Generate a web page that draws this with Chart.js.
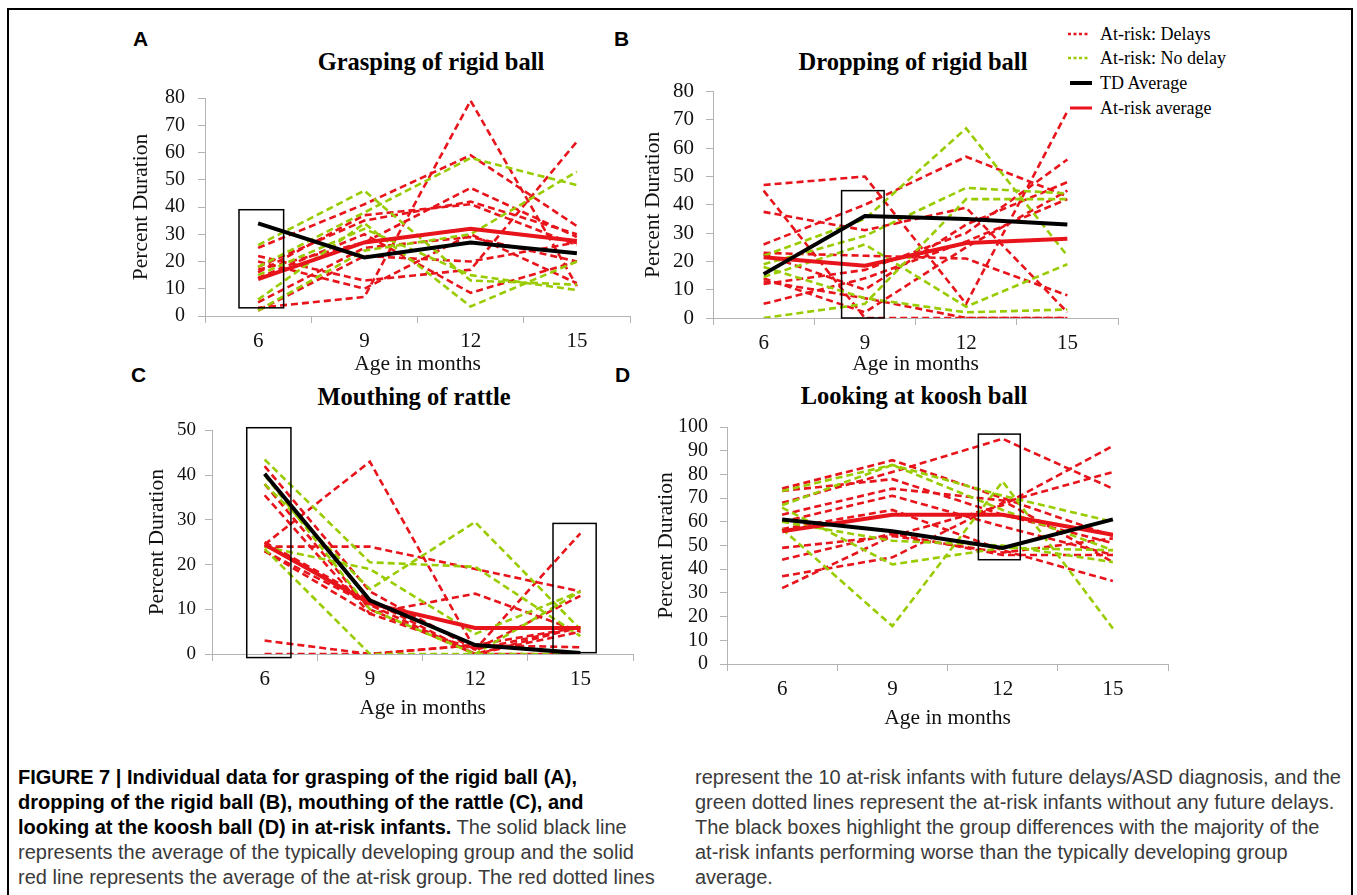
<!DOCTYPE html>
<html>
<head>
<meta charset="utf-8">
<script src="https://cdn.jsdelivr.net/npm/chart.js@4.4.1/dist/chart.umd.min.js"></script>
<style>
  html, body { margin:0; padding:0; background:#fff; }
  body { width:1357px; height:895px; position:relative; overflow:hidden; }
  #frame { position:absolute; left:7px; top:8px; width:1346px; height:1000px; border:2.5px solid #000; box-sizing:border-box; }
  canvas { position:absolute; }
  .lbl { position:absolute; font-family:"Liberation Sans", Arial, sans-serif; font-weight:bold; font-size:21px; line-height:21px; color:#000; }
  .ttl { position:absolute; width:400px; text-align:center; font-family:"Liberation Serif", "Times New Roman", serif; font-weight:bold; font-size:24.5px; line-height:24.5px; color:#000; white-space:nowrap; }
  .leg { position:absolute; font-family:"Liberation Serif", "Times New Roman", serif; font-size:18px; line-height:18px; color:#000; white-space:nowrap; }
  .cap { position:absolute; font-family:"Liberation Sans", Arial, sans-serif; font-size:20px; line-height:25px; color:#3a3a3a; white-space:nowrap; }
  .cap b { color:#000; }
</style>
</head>
<body>
<div id="frame"></div>

<div class="lbl" style="left:133px; top:28px;">A</div>
<div class="lbl" style="left:614px; top:28px;">B</div>
<div class="lbl" style="left:131px; top:364px;">C</div>
<div class="lbl" style="left:615px; top:364px;">D</div>

<div class="ttl" style="left:231px; top:50px;">Grasping of rigid ball</div>
<div class="ttl" style="left:713px; top:50px;">Dropping of rigid ball</div>
<div class="ttl" style="left:214px; top:385px;">Mouthing of rattle</div>
<div class="ttl" style="left:714px; top:384px;">Looking at koosh ball</div>

<svg style="position:absolute; left:1060px; top:24px;" width="40" height="95">
  <line x1="8" y1="10" x2="28" y2="10" stroke="#e8141b" stroke-width="2.5" stroke-dasharray="3,2.5"/>
  <line x1="8" y1="34" x2="28" y2="34" stroke="#99cc00" stroke-width="2.5" stroke-dasharray="3,2.5"/>
  <line x1="10" y1="59" x2="32" y2="59" stroke="#000" stroke-width="4"/>
  <line x1="10" y1="84" x2="32" y2="84" stroke="#e8141b" stroke-width="3"/>
</svg>
<div class="leg" style="left:1100px; top:25px;">At-risk: Delays</div>
<div class="leg" style="left:1100px; top:49px;">At-risk: No delay</div>
<div class="leg" style="left:1100px; top:74px;">TD Average</div>
<div class="leg" style="left:1100px; top:99px;">At-risk average</div>

<canvas id="cA" width="511" height="308" style="left:124px; top:73px;"></canvas>
<canvas id="cB" width="487" height="314" style="left:636px; top:67px;"></canvas>
<canvas id="cC" width="498" height="315" style="left:140px; top:410px;"></canvas>
<canvas id="cD" width="524" height="332" style="left:649px; top:403px;"></canvas>

<div class="cap" style="left:18px; top:765px;">
<b>FIGURE 7 | Individual data for grasping of the rigid ball (A),</b><br>
<b>dropping of the rigid ball (B), mouthing of the rattle (C), and</b><br>
<b>looking at the koosh ball (D) in at-risk infants.</b> The solid black line<br>
represents the average of the typically developing group and the solid<br>
red line represents the average of the at-risk group. The red dotted lines
</div>
<div class="cap" style="left:695px; top:765px;">
represent the 10 at-risk infants with future delays/ASD diagnosis, and the<br>
green dotted lines represent the at-risk infants without any future delays.<br>
The black boxes highlight the group differences with the majority of the<br>
at-risk infants performing worse than the typically developing group<br>
average.
</div>

<script>
// ---------- categories ----------
const ages = ['6', '9', '12', '15'];

// ---------- A: Grasping of rigid ball ----------
const graspTD = [34, 21.5, 27, 23];
const graspRiskAvg = [13.5, 27, 32, 27.5];
const graspDelays = [
  [3, 7, 79, 11], [22, 13, 17, 64], [25, 41, 59, 33], [17, 27, 47, 29], [18, 35, 42, 30],
  [16, 37, 41, 26], [5, 25, 29, 20], [14, 30, 8.5, 20], [2, 22, 20, 27], [20, 10, 30, 12]
];
const graspNoDelay = [
  [26, 46, 13, 11.5], [18, 38, 58, 48], [6, 34, 3.5, 20], [2, 24, 30, 53], [15, 32, 15, 9.5]
];
const graspBoxes = [{ cat: 0, from: -0.18, to: 0.24, low: 3, high: 39 }];

// ---------- B: Dropping of rigid ball ----------
const dropTD = [15.5, 36, 35, 33];
const dropRiskAvg = [21.5, 18.5, 26.5, 28];
const dropDelays = [
  [47, 50, 5, 73], [45, 0, 0, 0], [37.5, 31, 39, 2], [26, 40, 57, 43], [23, 22, 21, 8],
  [22.5, 10, 33, 48], [13, 7, 0, 0], [12, 17, 30, 56], [5, 14, 27, 42], [14, 2, 25, 45]
];
const dropNoDelay = [
  [22, 35, 67, 22], [19, 29, 46, 44], [14.5, 26, 4, 19], [0, 5, 42, 42], [18, 7, 2, 3]
];
const dropBoxes = [{ cat: 1, from: -0.23, to: 0.19, low: 0, high: 45 }];

// ---------- C: Mouthing of rattle ----------
const mouthTD = [40.3, 12, 2, 0.2];
const mouthRiskAvg = [24.5, 11.3, 5.8, 5.8];
const mouthDelays = [
  [24.5, 43, 1, 6], [24, 24, 19, 14], [35.5, 9, 13.5, 5], [42, 14, 1, 13], [23, 9, 1, 27],
  [25, 12, 0, 6], [3, 0, 2, 6], [0, 0, 2, 1.5], [38, 10, 0, 0], [23, 11, 0, 5]
];
const mouthNoDelay = [
  [43.5, 20.5, 19.5, 4], [38, 14.5, 29.5, 5.5], [24, 19, 4.5, 14], [23.5, 0, 0, 14], [40, 10, 0, 0]
];
const mouthBoxes = [
  { cat: 0, from: -0.17, to: 0.25, low: -0.8, high: 50.6 },
  { cat: 3, from: -0.26, to: 0.15, low: 0.3, high: 29.2 }
];

// ---------- D: Looking at koosh ball ----------
const lookTD = [61, 56, 49, 61];
const lookRiskAvg = [56, 63, 63, 54.5];
const lookDelays = [
  [68, 81, 95, 74], [32, 54, 67, 92], [37, 45, 68, 81], [74, 86, 70, 54], [73, 78, 63, 51],
  [63, 74, 69, 43], [60, 71, 58, 46], [57, 65, 48, 35], [49, 54, 47, 53], [44, 55, 46, 46]
];
const lookNoDelay = [
  [57, 16, 77, 15], [73, 84, 71, 60], [67, 84, 65, 48], [60, 52, 50, 43], [66, 42, 49, 48]
];
const lookBoxes = [{ cat: 2, from: -0.22, to: 0.16, low: 44, high: 97 }];

// ---------- styling ----------
const RED = '#e8141b', GREEN = '#99cc00', BLACK = '#000000', AXIS = '#b3b3b3';
const SERIF = '"Liberation Serif", "Times New Roman", serif';

const boxPlugin = {
  id: 'boxes',
  afterDatasetsDraw(chart, args, opts) {
    const xs = chart.scales.x, ys = chart.scales.y, ctx = chart.ctx;
    const step = xs.getPixelForValue(1) - xs.getPixelForValue(0);
    ctx.save();
    ctx.strokeStyle = '#000';
    ctx.lineWidth = 1.5;
    (opts.list || []).forEach(b => {
      const c = xs.getPixelForValue(b.cat);
      const x0 = c + b.from * step, x1 = c + b.to * step;
      const y0 = ys.getPixelForValue(b.high), y1 = ys.getPixelForValue(b.low);
      ctx.strokeRect(x0, y0, x1 - x0, y1 - y0);
    });
    ctx.restore();
  }
};

function makePanel(id, p) {
  const datasets = [];
  datasets.push({ data: p.td, borderColor: BLACK, borderWidth: 4, pointRadius: 0, tension: 0 });
  datasets.push({ data: p.avg, borderColor: RED, borderWidth: 4, pointRadius: 0, tension: 0 });
  p.noDelay.forEach(d => datasets.push({ data: d, borderColor: GREEN, borderWidth: 2.6, borderDash: [7, 4], pointRadius: 0, tension: 0 }));
  p.delays.forEach(d => datasets.push({ data: d, borderColor: RED, borderWidth: 2.6, borderDash: [7, 4], pointRadius: 0, tension: 0 }));

  new Chart(document.getElementById(id), {
    type: 'line',
    data: { labels: ages, datasets },
    plugins: [boxPlugin],
    options: {
      responsive: false, maintainAspectRatio: false, animation: false, devicePixelRatio: 1,
      layout: { padding: { top: 20, right: 5, left: 0, bottom: 0 } },
      plugins: { legend: { display: false }, tooltip: { enabled: false }, title: { display: false }, boxes: { list: p.boxes } },
      scales: {
        x: {
          type: 'category', offset: true,
          grid: { offset: true, drawOnChartArea: false, drawTicks: true, tickLength: 7, color: AXIS },
          border: { color: AXIS, width: 1 },
          ticks: { color: '#111', font: { family: SERIF, size: 21 }, padding: 6, maxRotation: 0, autoSkip: false },
          title: { display: true, text: 'Age in months', color: '#111', font: { family: SERIF, size: 21.5 }, padding: { top: 4, bottom: 4 } },
          afterFit: s => { s.height = p.xh; }
        },
        y: {
          min: 0, max: p.max,
          grid: { drawOnChartArea: false, drawTicks: true, tickLength: 7, color: AXIS },
          border: { color: AXIS, width: 1 },
          ticks: { stepSize: 10, autoSkip: false, color: '#111', font: { family: SERIF, size: p.ytick }, padding: p.ypad },
          title: { display: true, text: 'Percent Duration', color: '#111', font: { family: SERIF, size: 21.5 }, padding: { top: 4, bottom: 4 } },
          afterFit: s => { s.width = p.yw; }
        }
      }
    }
  });
}

makePanel('cA', { td: graspTD, avg: graspRiskAvg, delays: graspDelays, noDelay: graspNoDelay, boxes: graspBoxes, max: 80, yw: 81, xh: 65, ytick: 20, ypad: 13 });
makePanel('cB', { td: dropTD, avg: dropRiskAvg, delays: dropDelays, noDelay: dropNoDelay, boxes: dropBoxes, max: 80, yw: 77, xh: 63, ytick: 21, ypad: 12 });
makePanel('cC', { td: mouthTD, avg: mouthRiskAvg, delays: mouthDelays, noDelay: mouthNoDelay, boxes: mouthBoxes, max: 50, yw: 72, xh: 71, ytick: 19, ypad: 9 });
makePanel('cD', { td: lookTD, avg: lookRiskAvg, delays: lookDelays, noDelay: lookNoDelay, boxes: lookBoxes, max: 100, yw: 78, xh: 71, ytick: 20, ypad: 12 });
</script>
</body>
</html>
